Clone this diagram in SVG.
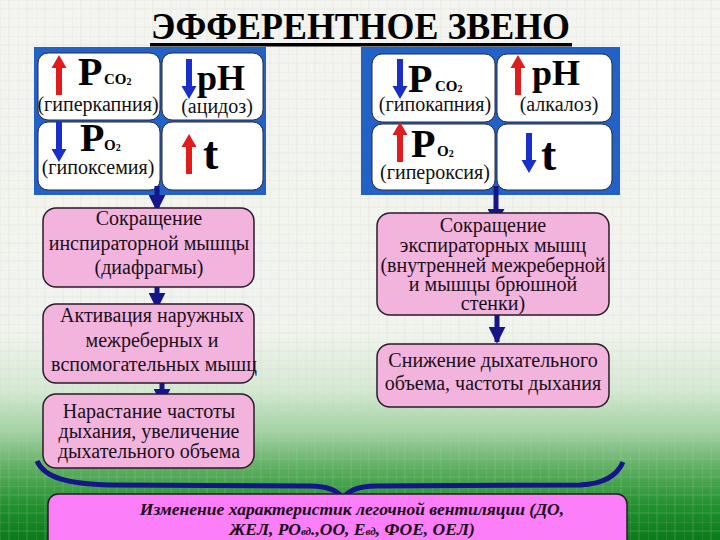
<svg xmlns="http://www.w3.org/2000/svg" xmlns:xlink="http://www.w3.org/1999/xlink" width="720" height="540" viewBox="0 0 720 540">
<defs>
<linearGradient id="bg" gradientUnits="userSpaceOnUse" x1="0" y1="0" x2="0" y2="540">
<stop offset="0" stop-color="#f4f4f0"/>
<stop offset="0.61" stop-color="#f1f4ee"/>
<stop offset="0.72" stop-color="#d6ead4"/>
<stop offset="0.80" stop-color="#a2d2a2"/>
<stop offset="0.87" stop-color="#5aae5e"/>
<stop offset="0.94" stop-color="#1e902c"/>
<stop offset="1" stop-color="#0a7a1a"/>
</linearGradient>
<pattern id="grid" patternUnits="userSpaceOnUse" width="18" height="18">
<path d="M0,0 V18 M9,0 V18 M0,0 H18 M0,9 H18" stroke="#c8c8c0" stroke-width="1" fill="none"/>
</pattern>
<path id="up" d="M-3,40 L-3,13 L-7.5,13 L0,0 L7.5,13 L3,13 L3,40 Z"/>
<path id="down" d="M-3,0 L-3,27 L-7.5,27 L0,40 L7.5,27 L3,27 L3,0 Z"/>
<marker id="ah" viewBox="0 0 10 10" refX="9" refY="5" markerWidth="3.4" markerHeight="3.4" orient="auto" markerUnits="strokeWidth">
<path d="M0,0 L10,5 L0,10 Z" fill="#15168a"/>
</marker>
<style>
text{font-family:'Liberation Serif','Times New Roman','DejaVu Serif',serif}
.panel{fill:#2262c6}
.cell{fill:#ffffff;stroke:#2a2a3a;stroke-width:1}
.red{fill:#e01c1c}
.blue{fill:#1a2ec8}
.big{font-weight:bold;fill:#000}
.lbl{font-size:20px;fill:#111;text-anchor:middle}
.box{fill:#f2b4dc;stroke:#2a1a2a;stroke-width:1.5}
.btxt{font-size:20px;fill:#1a0f1a;text-anchor:middle}
.conn{stroke:#15168a;stroke-width:5;fill:none}
.res{fill:#fc7ef8;stroke:#2a1a2a;stroke-width:1.5}
.rtxt{font-size:17.5px;font-weight:bold;font-style:italic;fill:#1a0a1a;text-anchor:middle}
</style>
</defs>

<rect x="0" y="0" width="720" height="540" fill="url(#bg)"/>
<rect x="0" y="0" width="720" height="540" fill="url(#grid)" opacity="0.25"/>

<g id="title">
<text x="151" y="39" class="big" font-size="38" textLength="419" lengthAdjust="spacingAndGlyphs">ЭФФЕРЕНТНОЕ ЗВЕНО</text>
<rect x="150" y="43" width="422" height="3.5" fill="#000"/>
</g>

<g id="left-panel">
<rect class="panel" x="34" y="47" width="232" height="148"/>
<rect class="cell" x="38" y="53" width="122" height="67" rx="10"/>
<rect class="cell" x="162" y="53" width="101" height="67" rx="10"/>
<rect class="cell" x="38" y="122" width="122" height="68" rx="10"/>
<rect class="cell" x="162" y="122" width="101" height="68" rx="10"/>
<use xlink:href="#up" class="red" x="59" y="55"/>
<text class="big" x="78" y="85" font-size="40">P</text>
<text class="big" x="104" y="84" font-size="15">CO<tspan font-size="10" dy="1">2</tspan></text>
<text class="lbl" x="98" y="111">(гиперкапния)</text>
<use xlink:href="#down" class="blue" x="189" y="59"/>
<text class="big" x="197" y="90" font-size="36">pH</text>
<text class="lbl" x="217" y="113">(ацидоз)</text>
<use xlink:href="#down" class="blue" x="59" y="122"/>
<text class="big" x="80" y="151" font-size="40">P</text>
<text class="big" x="104" y="150" font-size="15">O<tspan font-size="10" dy="1">2</tspan></text>
<text class="lbl" x="98" y="174">(гипоксемия)</text>
<use xlink:href="#up" class="red" x="189" y="134"/>
<text class="big" x="203" y="169" font-size="46">t</text>
</g>

<g id="right-panel">
<rect class="panel" x="361" y="47" width="259" height="148"/>
<rect class="cell" x="372" y="54" width="123" height="68" rx="10"/>
<rect class="cell" x="497" y="54" width="115" height="68" rx="10"/>
<rect class="cell" x="372" y="124" width="123" height="66" rx="10"/>
<rect class="cell" x="497" y="124" width="115" height="66" rx="10"/>
<use xlink:href="#down" class="blue" x="400" y="59"/>
<text class="big" x="408" y="92" font-size="40">P</text>
<text class="big" x="435" y="91" font-size="15">CO<tspan font-size="10" dy="1">2</tspan></text>
<text class="lbl" x="435" y="111">(гипокапния)</text>
<use xlink:href="#up" class="red" x="518" y="55"/>
<text class="big" x="532" y="85" font-size="36">pH</text>
<text class="lbl" x="559" y="111">(алкалоз)</text>
<use xlink:href="#up" class="red" x="400" y="122"/>
<text class="big" x="411" y="157" font-size="40">P</text>
<text class="big" x="437" y="156" font-size="15">O<tspan font-size="10" dy="1">2</tspan></text>
<text class="lbl" x="435" y="179">(гипероксия)</text>
<use xlink:href="#down" class="blue" x="529" y="133"/>
<text class="big" x="541" y="170" font-size="46">t</text>
</g>

<g id="connectors">
<line class="conn" x1="157" y1="186" x2="157" y2="210" marker-end="url(#ah)"/>
<line class="conn" x1="157" y1="284" x2="157" y2="308" marker-end="url(#ah)"/>
<line class="conn" x1="162" y1="380" x2="162" y2="404" marker-end="url(#ah)"/>
<line class="conn" x1="496" y1="186" x2="496" y2="224" marker-end="url(#ah)"/>
<line class="conn" x1="497" y1="314" x2="497" y2="342" marker-end="url(#ah)"/>
<path class="conn" stroke-width="6" d="M37,461 C44,477 66,484 110,485 L310,486 C328,486 338,490 343,499 C348,490 358,486 376,486 L580,485 C604,484 617,476 623,462"/>
</g>

<g id="box-l1">
<rect class="box" x="43" y="208" width="211" height="79" rx="13"/>
<text class="btxt" x="149" y="225">Сокращение</text>
<text class="btxt" x="149" y="250">инспираторной мышцы</text>
<text class="btxt" x="149" y="274">(диафрагмы)</text>
</g>
<g id="box-l2">
<rect class="box" x="43" y="304" width="211" height="79" rx="13"/>
<text class="btxt" x="152" y="322">Активация наружных</text>
<text class="btxt" x="152" y="347">межреберных и</text>
<text class="btxt" x="154" y="371">вспомогательных мышц</text>
</g>
<g id="box-l3">
<rect class="box" x="43" y="394" width="211" height="74" rx="13"/>
<text class="btxt" x="149" y="418">Нарастание частоты</text>
<text class="btxt" x="149" y="438">дыхания, увеличение</text>
<text class="btxt" x="149" y="458">дыхательного объема</text>
</g>
<g id="box-r1">
<rect class="box" x="377" y="213" width="232" height="102" rx="13"/>
<text class="btxt" x="493" y="232">Сокращение</text>
<text class="btxt" x="493" y="252">экспираторных мышц</text>
<text class="btxt" x="493" y="272">(внутренней межреберной</text>
<text class="btxt" x="493" y="291">и мышцы брюшной</text>
<text class="btxt" x="493" y="310">стенки)</text>
</g>
<g id="box-r2">
<rect class="box" x="377" y="344" width="232" height="63" rx="13"/>
<text class="btxt" x="493" y="367">Снижение дыхательного</text>
<text class="btxt" x="493" y="390">объема, частоты дыхания</text>
</g>
<g id="result">
<rect class="res" x="48" y="494" width="579" height="60" rx="10"/>
<text class="rtxt" x="352" y="515">Изменение характеристик легочной вентиляции (ДО,</text>
<text class="rtxt" x="352" y="535">ЖЕЛ, РО<tspan font-size="11">вд</tspan>.,ОО, Е<tspan font-size="11">вд</tspan>, ФОЕ, ОЕЛ)</text>
</g>
</svg>
